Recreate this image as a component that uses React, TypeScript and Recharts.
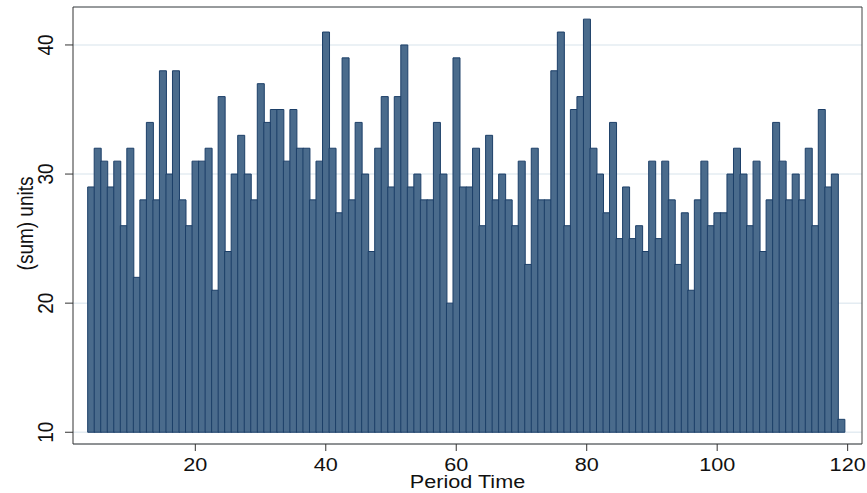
import { Bar, BarChart, CartesianGrid, ReferenceLine, XAxis, YAxis } from "recharts";

// units summed per period, periods 4..119
const firstPeriod = 4;
const units = [
  29, 32, 31, 29, 31, 26, 32, 22, 28, 34, 28, 38, 30, 38, 28, 26, 31, 31, 32, 21, 36, 24, 30, 33, 30, 28, 37, 34, 35, 35,
  31, 35, 32, 32, 28, 31, 41, 32, 27, 39, 28, 34, 30, 24, 32, 36, 29, 36, 40, 29, 30, 28, 28, 34, 30, 20, 39, 29, 29, 32,
  26, 33, 28, 30, 28, 26, 31, 23, 32, 28, 28, 38, 41, 26, 35, 36, 42, 32, 30, 27, 34, 25, 29, 25, 26, 24, 31, 25, 31, 28,
  23, 27, 21, 28, 31, 26, 27, 27, 30, 32, 30, 26, 31, 24, 28, 34, 31, 28, 30, 28, 32, 26, 35, 29, 30, 11,
];
const xTicks = [20, 40, 60, 80, 100, 120];
const yTicks = [10, 20, 30, 40];
const baseValue = 10;

const data = units.map((v, i) => ({ period: firstPeriod + i, range: [baseValue, v] }));

const xDomain = [1.25, 122.2];
const yDomain = [9.09, 42.94];

const FONT = "'Liberation Sans', Arial, sans-serif";
const STRETCH = 1.17;

const XTick = ({ x, payload }: any) => (
  <text
    transform={`translate(${x},470.5) scale(${STRETCH},1)`}
    textAnchor="middle"
    fontSize={18.5}
    fontFamily={FONT}
    fill="#111"
  >
    {payload.value}
  </text>
);

const YTick = ({ y, payload }: any) => (
  <text
    transform={`translate(53,${y}) scale(${STRETCH},1) rotate(-90)`}
    textAnchor="middle"
    fontSize={19}
    fontFamily={FONT}
    fill="#111"
  >
    {payload.value}
  </text>
);

export default function App() {
  return (
    <div style={{ position: "absolute", left: 0, top: 0, background: "#fff" }}>
      <BarChart
        width={867}
        height={493}
        data={data}
        margin={{ top: 7, right: 5, bottom: 0, left: 0 }}
        barCategoryGap={0}
        barGap={0}
      >
        <CartesianGrid vertical={false} stroke="#e4ecf2" strokeWidth={1.5} />
        <XAxis
          dataKey="period"
          type="number"
          domain={xDomain}
          ticks={xTicks}
          allowDataOverflow
          height={49}
          tickSize={7}
          stroke="#333"
          tick={<XTick />}
          label={{
            content: () => (
              <text
                transform={`translate(467.5,487.5) scale(${STRETCH},1)`}
                textAnchor="middle"
                fontSize={18.5}
                fontFamily={FONT}
                fill="#111"
              >
                Period Time
              </text>
            ),
          }}
        />
        <YAxis
          type="number"
          domain={yDomain}
          ticks={yTicks}
          allowDataOverflow
          width={73}
          tickSize={8}
          stroke="#333"
          tick={<YTick />}
          label={{
            content: () => (
              <text
                transform={`translate(33,223.5) scale(${STRETCH},1) rotate(-90)`}
                textAnchor="middle"
                fontSize={19}
                fontFamily={FONT}
                fill="#111"
              >
                (sum) units
              </text>
            ),
          }}
        />
        <ReferenceLine y={yDomain[1]} stroke="#444" />
        <ReferenceLine x={xDomain[1]} stroke="#444" />
        <Bar dataKey="range" fill="#4a6b8c" stroke="#1c3f68" strokeWidth={1} isAnimationActive={false} />
      </BarChart>
    </div>
  );
}
